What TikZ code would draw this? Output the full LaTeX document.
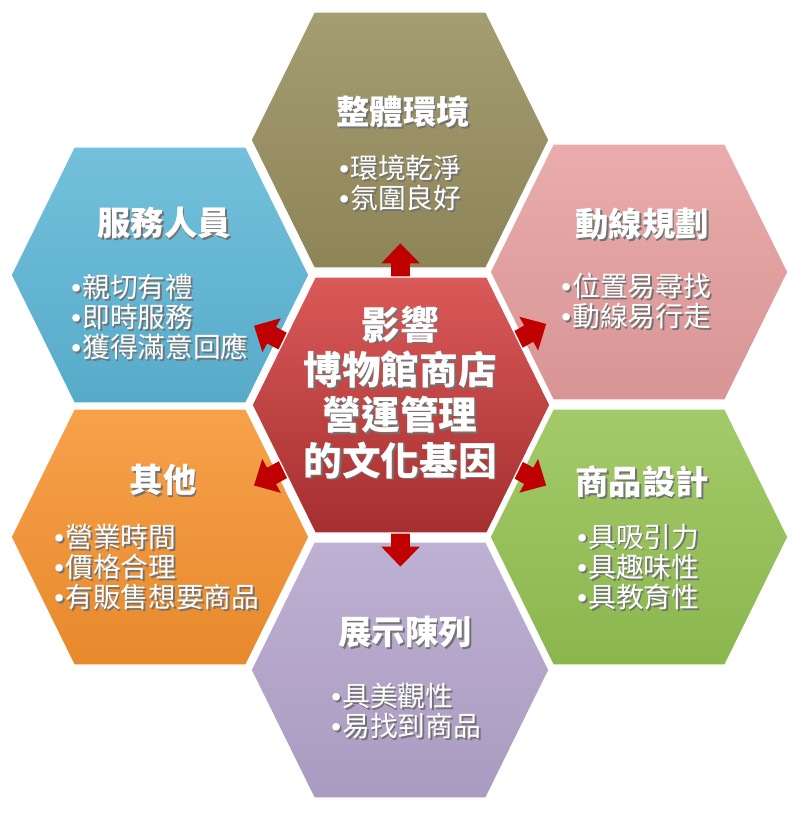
\documentclass[tikz,border=0pt]{standalone}
\usepackage{fontspec}
\usepackage{tikz}
\usetikzlibrary{
  arrows.meta,
  shadows,
  calc
}
\newfontfamily\cjk{Noto Sans CJK TC}
\newfontfamily\bulletfont{Liberation Sans}
\newcommand\txtshade[1]{\makebox[0pt][l]{\kern1.4pt\raisebox{-1.4pt}{\color{black!55}#1}}#1}
\newcommand\itm[1]{\txtshade{{\bulletfont •}\kern1pt#1}}
\definecolor{envc}{RGB}{150,141,92}
\definecolor{staffc}{RGB}{92,182,214}
\definecolor{routec}{RGB}{230,158,158}
\definecolor{otherc}{RGB}{246,146,46}
\definecolor{goodsc}{RGB}{148,194,82}
\definecolor{displayc}{RGB}{180,164,204}
\definecolor{hubc}{RGB}{212,60,60}
\definecolor{arrowred}{RGB}{192,0,0}
\tikzset{
  hex cell/.pic={
    \path[pic actions] (-149,0) -- (-86,128) -- (86,128) -- (149,0)
      -- (86,-128) -- (-86,-128) -- cycle;
  },
  cell fill/.style={top color=#1!86!white, bottom color=#1!94!black,
    draw=white, line width=1pt,
    drop shadow={shadow xshift=0.8pt, shadow yshift=-1.8pt, opacity=0.3}},
  hub fill/.style={cell fill=hubc, top color=hubc!85!white,
    bottom color=hubc!78!black},
  cell title/.style={text=white, inner sep=0pt,
    font=\cjk\bfseries\fontsize{25}{30}\selectfont},
  cell list/.style={text=white, inner sep=0pt, align=left, anchor=west,
    font=\cjk\fontsize{20.8}{22.8}\selectfont},
  hub text/.style={text=white, inner sep=0pt, align=center,
    font=\cjk\bfseries\fontsize{29}{34}\selectfont},
  big arrow/.style={draw=arrowred, line width=14pt,
    -{Triangle[width=28pt,length=15pt]}},
}

\begin{document}
\begin{tikzpicture}[x=0.75pt, y=-0.75pt]
\useasboundingbox (0,0) rectangle (800,813);
% cell centres
\coordinate (hub) at (401,405);
\coordinate (env) at (400,140);
\coordinate (staff) at (160,275);
\coordinate (route) at (639,272);
\coordinate (other) at (160,537);
\coordinate (goods) at (639,537);
\coordinate (display) at (400,670);

\pic[cell fill=envc] at (env) {hex cell};
\pic[cell fill=staffc] at (staff) {hex cell};
\pic[cell fill=routec] at (route) {hex cell};
\pic[cell fill=otherc] at (other) {hex cell};
\pic[cell fill=goodsc] at (goods) {hex cell};
\pic[cell fill=displayc] at (display) {hex cell};

% arrows out of the hub
\foreach \cell in {env,staff,route,other,goods,display}
  \draw[big arrow] (hub) -- ($(hub)!0.61!(\cell)$);

\pic[hub fill] at (hub) {hex cell};

\node[hub text] (hub-text) at (400,393)
  {\txtshade{影響}\\\txtshade{博物館商店}\\\txtshade{營運管理}\\\txtshade{的文化基因}};

\node[cell title] (env-title) at (403,113) {\txtshade{整體環境}};
\node[cell list] (env-list) at (339,184)
  {\itm{環境乾淨}\\\itm{氛圍良好}};

\node[cell title] (staff-title) at (164,224) {\txtshade{服務人員}};
\node[cell list] (staff-list) at (71,318)
  {\itm{親切有禮}\\\itm{即時服務}\\\itm{獲得滿意回應}};

\node[cell title] (route-title) at (642,225) {\txtshade{動線規劃}};
\node[cell list] (route-list) at (561,302)
  {\itm{位置易尋找}\\\itm{動線易行走}};

\node[cell title] (other-title) at (163,481) {\txtshade{其他}};
\node[cell list] (other-list) at (54,568)
  {\itm{營業時間}\\\itm{價格合理}\\\itm{有販售想要商品}};

\node[cell title] (goods-title) at (642,483) {\txtshade{商品設計}};
\node[cell list] (goods-list) at (577,568)
  {\itm{具吸引力}\\\itm{具趣味性}\\\itm{具教育性}};

\node[cell title] (display-title) at (405,633) {\txtshade{展示陳列}};
\node[cell list] (display-list) at (331,712)
  {\itm{具美觀性}\\\itm{易找到商品}};
\end{tikzpicture}
\end{document}
